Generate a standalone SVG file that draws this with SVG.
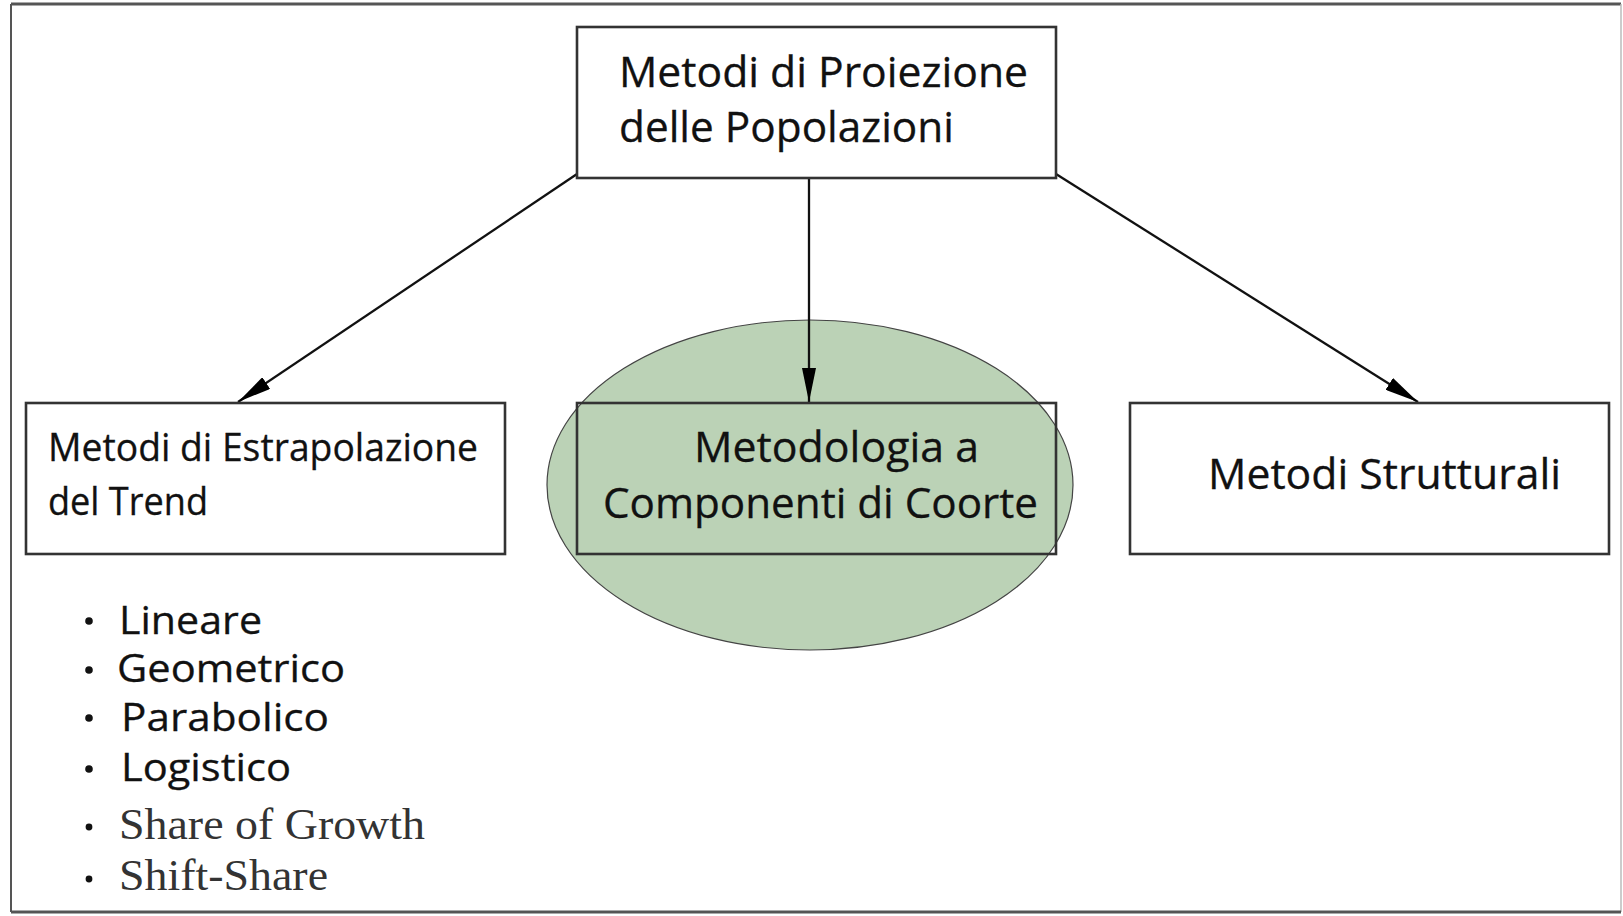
<svg xmlns="http://www.w3.org/2000/svg" width="1623" height="916" viewBox="0 0 1623 916">
<style>
.box{fill:none;stroke:#333;stroke-width:2.6}
.lbl{font-family:"Open Sans","Noto Sans",sans-serif;fill:#111;stroke:#111;stroke-width:0.3}
.ser{font-family:"Liberation Serif",serif;fill:#333;font-size:45px}
.conn{stroke:#111;stroke-width:2.3;fill:none}
.bul{fill:#111}
</style>
<defs>
<marker id="ah" viewBox="0 0 34 14" refX="34" refY="7" markerWidth="34" markerHeight="14" markerUnits="userSpaceOnUse" orient="auto">
<path d="M0,0 L34,7 L0,14 z" fill="#000"/>
</marker>
</defs>
<rect width="1623" height="916" fill="#fff"/>
<g id="frame">
<line x1="11" y1="4" x2="1621" y2="4" stroke="#555" stroke-width="3"/>
<line x1="11" y1="4" x2="11" y2="912" stroke="#555" stroke-width="2"/>
<line x1="1621" y1="4" x2="1621" y2="912" stroke="#bbb" stroke-width="1.5"/>
<line x1="11" y1="912" x2="1621" y2="912" stroke="#555" stroke-width="3"/>
</g>
<g id="node-ellipse">
<ellipse cx="810" cy="485" rx="263" ry="165" fill="#bbd2b6" stroke="#444" stroke-width="1.2"/>
</g>
<g id="connectors">
<line class="conn" x1="577" y1="174" x2="238" y2="402" marker-end="url(#ah)"/>
<line class="conn" x1="809" y1="178" x2="809" y2="402" marker-end="url(#ah)"/>
<line class="conn" x1="1056" y1="174" x2="1418" y2="402" marker-end="url(#ah)"/>
</g>
<g id="node-top">
<rect class="box" x="577" y="27" width="479" height="151" style="fill:#fff"/>
<text class="lbl" x="619" y="87" font-size="42" textLength="409" lengthAdjust="spacingAndGlyphs">Metodi di Proiezione</text>
<text class="lbl" x="619" y="142" font-size="42" textLength="335" lengthAdjust="spacingAndGlyphs">delle Popolazioni</text>
</g>
<g id="node-left">
<rect class="box" x="26" y="403" width="479" height="151" style="fill:#fff"/>
<text class="lbl" x="48" y="461" font-size="38" textLength="430" lengthAdjust="spacingAndGlyphs">Metodi di Estrapolazione</text>
<text class="lbl" x="48" y="515" font-size="38" textLength="160" lengthAdjust="spacingAndGlyphs">del Trend</text>
</g>
<g id="node-middle">
<rect class="box" x="577" y="403" width="479" height="151"/>
<text class="lbl" x="694" y="462" font-size="42" textLength="285" lengthAdjust="spacingAndGlyphs">Metodologia a</text>
<text class="lbl" x="603" y="518" font-size="42" textLength="435" lengthAdjust="spacingAndGlyphs">Componenti di Coorte</text>
</g>
<g id="node-right">
<rect class="box" x="1130" y="403" width="479" height="151" style="fill:#fff"/>
<text class="lbl" x="1208" y="489" font-size="42" textLength="353" lengthAdjust="spacingAndGlyphs">Metodi Strutturali</text>
</g>
<g id="list">
<circle class="bul" cx="89" cy="621" r="3.8"/>
<text class="lbl" x="119" y="634" font-size="39" textLength="143" lengthAdjust="spacingAndGlyphs">Lineare</text>
<circle class="bul" cx="89" cy="670" r="3.8"/>
<text class="lbl" x="117" y="682" font-size="39" textLength="228" lengthAdjust="spacingAndGlyphs">Geometrico</text>
<circle class="bul" cx="89" cy="718" r="3.8"/>
<text class="lbl" x="121" y="731" font-size="39" textLength="208" lengthAdjust="spacingAndGlyphs">Parabolico</text>
<circle class="bul" cx="89" cy="769" r="3.8"/>
<text class="lbl" x="121" y="781" font-size="39" textLength="170" lengthAdjust="spacingAndGlyphs">Logistico</text>
<circle class="bul" cx="89" cy="827" r="3.4" fill="#222"/>
<text class="ser" x="119" y="839" textLength="306" lengthAdjust="spacingAndGlyphs">Share of Growth</text>
<circle class="bul" cx="89" cy="879" r="3.4" fill="#222"/>
<text class="ser" x="119" y="890" textLength="209" lengthAdjust="spacingAndGlyphs">Shift-Share</text>
</g>
</svg>
